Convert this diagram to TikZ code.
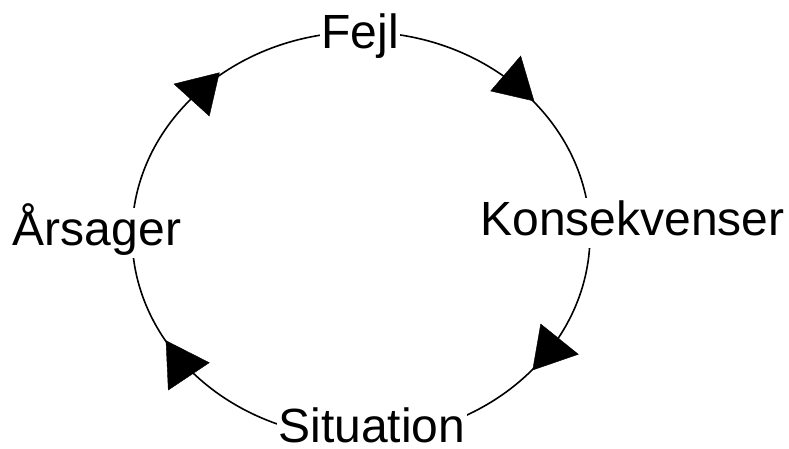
\documentclass[tikz,border=0pt]{standalone}
\usepackage{fontspec}
\setmainfont{Liberation Sans}
\begin{document}
\begin{tikzpicture}[x=1pt,y=-1pt,
  cycleline/.style={line width=1.6pt},
  headtri/.style={fill=black,draw=black,line width=0.4pt,line join=miter},
  lbl/.style={fill=white,inner xsep=1.5pt,inner ysep=1pt,text height=36pt,text depth=12pt,anchor=base,
    font=\fontsize{48pt}{56pt}\selectfont}]
\useasboundingbox (0,0) rectangle (789,448);
% cycle
\draw[cycleline] (361,235) ellipse [x radius=229pt, y radius=203pt];
% labels
\node[lbl] (fejl) at (360,48.3) {Fejl};
\node[lbl] (kons) at (632.5,235) {Konsekvenser};
\node[lbl,text depth=1pt,inner ysep=0pt] (sit) at (372,442) {Situation};
\node[lbl] (aars) at (97,245) {Årsager};
% arrowheads
\filldraw[headtri] (174,84) -- (219.3,72.7) -- (209.3,116) -- cycle;
\filldraw[headtri] (520.7,56) -- (490.7,91) -- (534,101) -- cycle;
\filldraw[headtri] (540.7,324) -- (578.3,354.3) -- (532.7,370) -- cycle;
\filldraw[headtri] (166,340.7) -- (209.3,362.7) -- (168.3,390) -- cycle;
\end{tikzpicture}
\end{document}
